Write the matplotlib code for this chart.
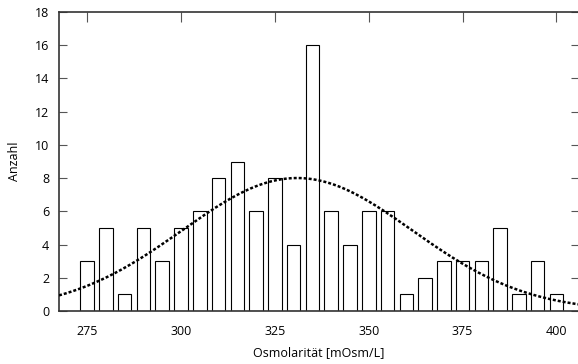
import matplotlib
matplotlib.use('Agg')
import matplotlib.pyplot as plt
import numpy as np

plt.rcParams['font.family'] = ['Open Sans', 'DejaVu Sans']

# histogram bins (centre, mOsm/L) and counts
osmo = [275, 280, 285, 290, 295, 300, 305, 310, 315, 320, 325, 330, 335,
        340, 345, 350, 355, 360, 365, 370, 375, 380, 385, 390, 395, 400]
anzahl = [3, 5, 1, 5, 3, 5, 6, 8, 9, 6, 8, 4, 16,
          6, 4, 6, 6, 1, 2, 3, 3, 3, 5, 1, 3, 1]
xticks = [275, 300, 325, 350, 375, 400]
yticks = [0, 2, 4, 6, 8, 10, 12, 14, 16, 18]
bin_width = 5

# normal curve fitted to the binned data
x = np.array(osmo, dtype=float)
c = np.array(anzahl, dtype=float)
n = c.sum()
mu = (x * c).sum() / n
sd = np.sqrt((c * (x - mu) ** 2).sum() / n)
xs = np.linspace(267.5, 406, 300)
fit = n * bin_width / (sd * np.sqrt(2 * np.pi)) * np.exp(-0.5 * ((xs - mu) / sd) ** 2)

fig = plt.figure(figsize=(5.78, 3.64), dpi=100)
ax = fig.add_axes([59 / 578, 1 - 311 / 364, 520 / 578, 299 / 364])

ax.bar(osmo, anzahl, width=3.6, color='white', edgecolor='black', linewidth=0.8, zorder=2)
ax.plot(xs, fit, color='black', linestyle=(0, (1.2, 0.8)), linewidth=1.8, zorder=3)

ax.set_xlim(267.5, 406)
ax.set_ylim(0, 18)
ax.set_xticks(xticks)
ax.set_yticks(yticks)
ax.tick_params(axis='x', which='both', direction='in', top=True, bottom=False,
               labeltop=False, labelbottom=True, length=7, pad=10, labelsize=9,
               color='#555555')
ax.tick_params(axis='y', which='both', direction='in', left=True, right=True,
               length=6, pad=7, labelsize=9, color='#555555')
for s in ax.spines.values():
    s.set_color('#333333')
    s.set_linewidth(1.2)

ax.set_xlabel('Osmolarität [mOsm/L]', fontsize=9, labelpad=6)
ax.set_ylabel('Anzahl', fontsize=9, labelpad=10)

fig.savefig('out.png', dpi=100)
